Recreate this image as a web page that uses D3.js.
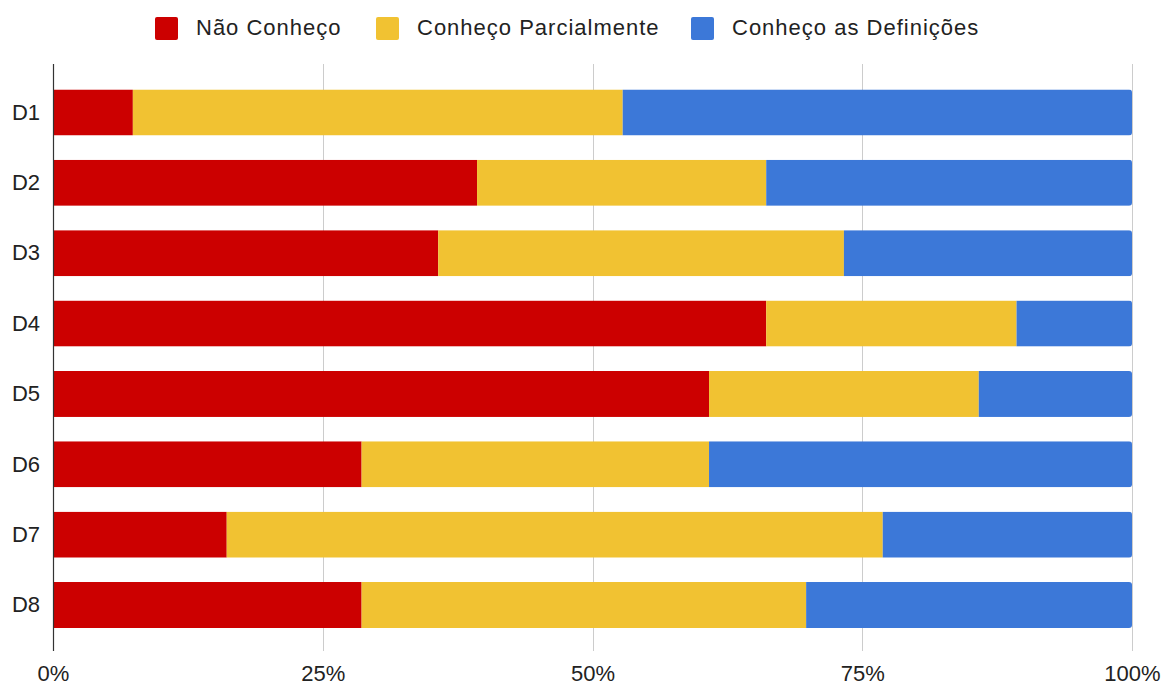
<!DOCTYPE html>
<html>
<head>
<meta charset="utf-8">
<script src="https://cdn.jsdelivr.net/npm/d3@7"></script>
<style>
  html, body { margin: 0; padding: 0; background: #ffffff; }
  svg { display: block; font-family: "Liberation Sans", Arial, Helvetica, sans-serif; }
</style>
</head>
<body>
<svg id="chart" width="1165" height="685"></svg>
<script>
// Categories and stacked shares (percent of respondents)
const categories = ["D1", "D2", "D3", "D4", "D5", "D6", "D7", "D8"];
const naoConheco = [7.4, 39.3, 35.7, 66.1, 60.8, 28.6, 16.1, 28.6];
const conhecoParcialmente = [45.4, 26.8, 37.6, 23.2, 25.0, 32.2, 60.8, 41.2];
const conhecoDefinicoes = [47.2, 33.9, 26.7, 10.7, 14.2, 39.2, 23.1, 30.2];

const seriesNames = ["Não Conheço", "Conheço Parcialmente", "Conheço as Definições"];
const seriesColors = ["#cc0000", "#f1c232", "#3c78d8"];
const tickValues = [0, 25, 50, 75, 100];

const rows = categories.map((c, i) => ({
  cat: c,
  s0: naoConheco[i],
  s1: conhecoParcialmente[i],
  s2: conhecoDefinicoes[i]
}));

const svg = d3.select("#chart");

const x = d3.scaleLinear().domain([0, 100]).range([53, 1132]);
const y = d3.scaleBand().domain(categories).range([77.3, 640.2])
  .paddingInner(0.346).paddingOuter(0.173);

const gridTop = 64, gridBottom = 651;

// Vertical gridlines
svg.append("g")
  .selectAll("line")
  .data(tickValues.filter(v => v > 0))
  .join("line")
  .attr("x1", d => Math.round(x(d)) + 0.5)
  .attr("x2", d => Math.round(x(d)) + 0.5)
  .attr("y1", gridTop)
  .attr("y2", gridBottom)
  .attr("stroke", "#cccccc")
  .attr("stroke-width", 1);

// Stacked bars, each row clipped to a slightly rounded outline
const stack = d3.stack().keys(["s0", "s1", "s2"]);
const stacked = stack(rows);

const defs = svg.append("defs");
categories.forEach((c) => {
  defs.append("clipPath")
    .attr("id", "clip-" + c)
    .append("rect")
    .attr("x", x(0) - 4)
    .attr("y", y(c))
    .attr("width", x(100) - x(0) + 4)
    .attr("height", y.bandwidth())
    .attr("rx", 3)
    .attr("ry", 3);
});

const barG = svg.append("g");
stacked.forEach((layer, k) => {
  barG.append("g")
    .attr("fill", seriesColors[k])
    .selectAll("rect")
    .data(layer)
    .join("rect")
    .attr("clip-path", d => "url(#clip-" + d.data.cat + ")")
    .attr("x", d => x(d[0]))
    .attr("y", d => y(d.data.cat))
    .attr("width", d => x(d[1]) - x(d[0]))
    .attr("height", y.bandwidth());
});

// Baseline axis
svg.append("line")
  .attr("x1", x(0) + 0.5)
  .attr("x2", x(0) + 0.5)
  .attr("y1", gridTop)
  .attr("y2", gridBottom)
  .attr("stroke", "#333333")
  .attr("stroke-width", 1.2);

// Category labels
const yAxis = d3.axisLeft(y).tickSize(0).tickPadding(0);
const yg = svg.append("g")
  .attr("transform", "translate(40,0)")
  .call(yAxis);
yg.select(".domain").remove();
yg.selectAll("text")
  .attr("font-size", 22)
  .attr("fill", "#222222")
  .attr("font-family", "'Liberation Sans', Arial, sans-serif")
  .attr("dy", "0.33em");

// Percentage axis labels
const xAxis = d3.axisBottom(x).tickValues(tickValues).tickSize(0).tickPadding(0)
  .tickFormat(d => d + "%");
const xg = svg.append("g")
  .attr("transform", "translate(0,681)")
  .call(xAxis);
xg.select(".domain").remove();
xg.selectAll("text")
  .attr("font-size", 22)
  .attr("fill", "#222222")
  .attr("font-family", "'Liberation Sans', Arial, sans-serif")
  .attr("y", 0)
  .attr("dy", 0);

// Legend
const legendX = [155, 376, 691];
const legend = svg.append("g")
  .selectAll("g")
  .data(seriesNames)
  .join("g")
  .attr("transform", (d, i) => "translate(" + legendX[i] + ",17)");
legend.append("rect")
  .attr("width", 23)
  .attr("height", 23)
  .attr("rx", 2)
  .attr("fill", (d, i) => seriesColors[i]);
legend.append("text")
  .attr("x", 41)
  .attr("y", 17.5)
  .attr("font-size", 22)
  .attr("letter-spacing", 1.0)
  .attr("fill", "#222222")
  .text(d => d);
</script>
</body>
</html>
